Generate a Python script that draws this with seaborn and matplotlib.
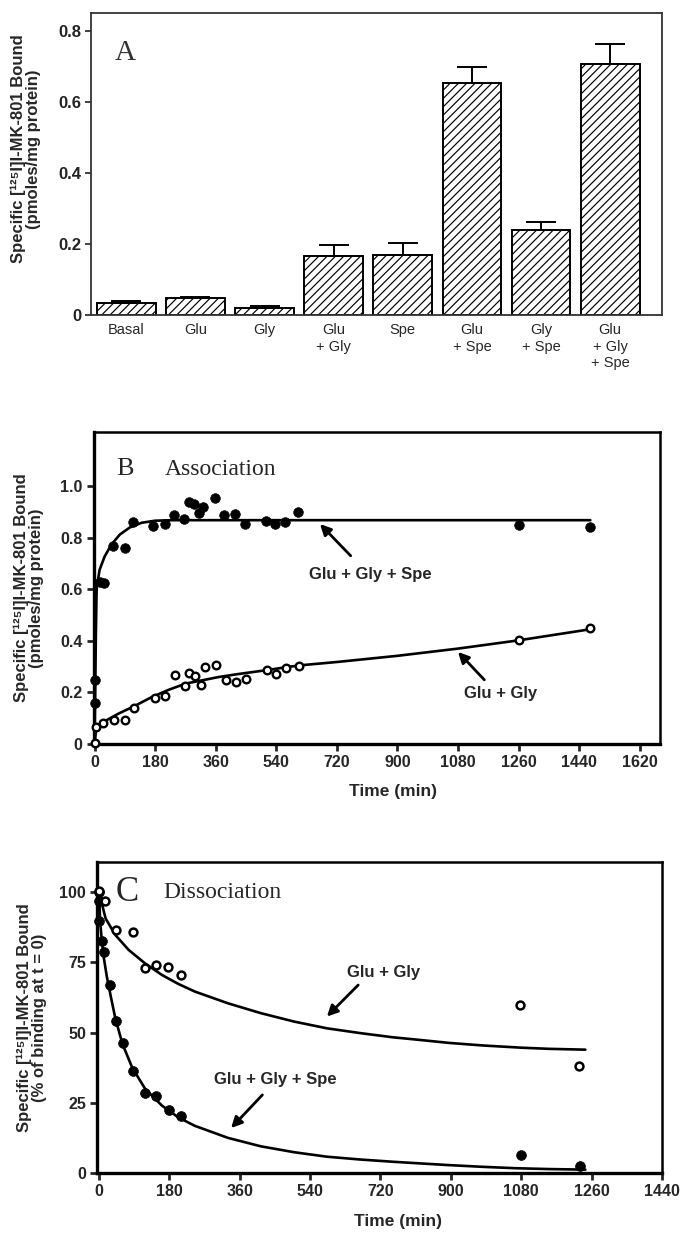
import matplotlib
matplotlib.use('Agg')
import matplotlib.pyplot as plt
import seaborn as sns
import numpy as np
import pandas as pd

# ---------------- Panel A data ----------------
conditions = ['Basal', 'Glu', 'Gly', 'Glu\n+ Gly', 'Spe', 'Glu\n+ Spe', 'Gly\n+ Spe', 'Glu\n+ Gly\n+ Spe']
bound_mean = [0.033, 0.048, 0.019, 0.165, 0.168, 0.654, 0.238, 0.706]
bound_err = [0.005, 0.003, 0.007, 0.032, 0.035, 0.043, 0.024, 0.056]

# ---------------- Panel B data (association) ----------------
assoc_spe_t = [0, 2, 15, 28, 55, 90, 115, 175, 208, 235, 265, 280, 295, 310, 322, 358, 385, 418, 448,
               510, 535, 565, 605, 1260, 1471]
assoc_spe_v = [0.158, 0.249, 0.630, 0.623, 0.769, 0.760, 0.860, 0.844, 0.855, 0.890, 0.873, 0.940, 0.932,
               0.894, 0.919, 0.955, 0.890, 0.892, 0.855, 0.864, 0.855, 0.860, 0.900, 0.849, 0.842]
assoc_gly_t = [0, 5, 25, 58, 92, 118, 180, 210, 238, 268, 282, 298, 315, 327, 360, 392, 420, 450, 513,
               538, 568, 608, 1260, 1471]
assoc_gly_v = [0.005, 0.065, 0.080, 0.094, 0.094, 0.139, 0.179, 0.188, 0.269, 0.223, 0.275, 0.262, 0.227,
               0.299, 0.305, 0.249, 0.240, 0.253, 0.288, 0.273, 0.296, 0.301, 0.404, 0.449]
# fitted curves
fit_assoc_spe_t = [0, 2, 4, 6, 7, 15, 30, 50, 75, 105, 140, 180, 230, 1473]
fit_assoc_spe_v = [0.0, 0.20, 0.42, 0.58, 0.61, 0.675, 0.727, 0.773, 0.812, 0.840, 0.858, 0.866, 0.868, 0.868]
fit_assoc_gly_t = [0, 5, 30, 70, 120, 170, 220, 270, 320, 370, 420, 470, 520, 570, 610, 720, 900, 1080, 1260, 1473]
fit_assoc_gly_v = [0.0, 0.058, 0.088, 0.117, 0.148, 0.182, 0.210, 0.234, 0.247, 0.260, 0.270, 0.279, 0.288,
                   0.298, 0.305, 0.318, 0.342, 0.370, 0.402, 0.445]

# ---------------- Panel C data (dissociation) ----------------
dissoc_spe_t = [0, 0, 0, 7, 12, 29, 44, 62, 88, 118, 147, 179, 210, 1080, 1230]
dissoc_spe_v = [100, 96.8, 89.7, 82.6, 78.5, 67.0, 54.0, 46.4, 36.2, 28.5, 27.5, 22.6, 20.4, 6.3, 2.6]
dissoc_gly_t = [0, 15, 44, 86, 117, 146, 176, 209, 1078, 1229]
dissoc_gly_v = [100.4, 96.9, 86.5, 85.9, 72.9, 74.1, 73.2, 70.5, 59.9, 38.2]
fit_dissoc_spe_t = [0, 3, 7, 12, 20, 30, 42, 60, 85, 118, 161, 203, 245, 330, 414, 499, 583, 668, 752, 811,
                    896, 981, 1066, 1150, 1244]
fit_dissoc_spe_v = [100, 90, 83, 77, 70, 63, 55, 46, 37.5, 30, 24, 19.8, 16.8, 12.5, 9.5, 7.4, 5.8, 4.8, 4.0,
                    3.5, 2.8, 2.2, 1.7, 1.4, 1.2]
fit_dissoc_gly_t = [0, 17, 42, 76, 118, 161, 203, 245, 330, 414, 499, 583, 668, 752, 811, 896, 981, 1081, 1150, 1244]
fit_dissoc_gly_v = [100, 90.6, 84.7, 79.4, 74.6, 70.5, 67.3, 64.6, 60.4, 56.9, 53.9, 51.5, 49.8, 48.3, 47.5,
                    46.3, 45.4, 44.6, 44.2, 43.9]

# ---------------- style ----------------
sns.set_style('ticks')
plt.rcParams['font.family'] = ['Liberation Sans', 'DejaVu Sans']
plt.rcParams['hatch.linewidth'] = 0.85
plt.rcParams['hatch.color'] = '#1a1a1a'

W, H = 681, 1233
fig = plt.figure(figsize=(W / 100, H / 100), dpi=100)


def box(l, t, r, b):
    return [l / W, 1 - b / H, (r - l) / W, (b - t) / H]


SERIF = ['Liberation Serif', 'DejaVu Serif']
ylab_main = 'Specific [¹²⁵I]I-MK-801 Bound'
YLAB_FS = 12

# ================= Panel A =================
axA = fig.add_axes(box(91, 13, 662, 315))
dfA = pd.DataFrame({'cond': conditions, 'val': bound_mean})
sns.barplot(data=dfA, x='cond', y='val', ax=axA, color='white', saturation=1,
            edgecolor='black', linewidth=1.4, width=0.85, errorbar=None)
for p in axA.patches:
    p.set_hatch('////')
xsA = [p.get_x() + p.get_width() / 2 for p in axA.patches]
axA.errorbar(xsA, bound_mean, yerr=[np.zeros(len(bound_err)), bound_err], fmt='none',
             ecolor='black', elinewidth=1.4, capsize=11, capthick=1.4, zorder=3)
axA.set_xlim(-0.51, 7.75)
axA.set_ylim(0, 0.85)
axA.set_yticks([0, 0.2, 0.4, 0.6, 0.8])
axA.set_yticklabels(['0', '0.2', '0.4', '0.6', '0.8'], fontsize=12, fontweight='bold')
axA.set_xticks(range(len(conditions)))
axA.set_xticklabels(conditions, fontsize=10.5, linespacing=1.2)
axA.tick_params(axis='x', length=0, pad=6)
axA.tick_params(axis='y', length=4, width=1.2, direction='out', pad=3, colors='#222222')
axA.set_xlabel('')
for s in axA.spines.values():
    s.set_visible(True)
    s.set_linewidth(1.3)
    s.set_color('#333333')
axA.set_ylabel(ylab_main + '\n(pmoles/mg protein)', fontsize=YLAB_FS, fontweight='bold', linespacing=1.0)
axA.yaxis.set_label_coords(-0.088, 0.55)
axA.text(-0.16, 0.718, 'A', fontsize=21, family=SERIF, color='#333333')


def style_line_axes(ax):
    for k, s in ax.spines.items():
        s.set_visible(True)
        s.set_color('black')
        s.set_linewidth(2.4 if k in ('left', 'bottom') else 1.8)
    ax.tick_params(length=5, width=2, direction='out', pad=3, labelsize=11.5)
    for lab in ax.get_xticklabels() + ax.get_yticklabels():
        lab.set_fontweight('bold')


def arrow(ax, tail, head):
    ax.annotate('', xy=head, xytext=tail,
                arrowprops=dict(arrowstyle='-|>', lw=2.0, color='black', mutation_scale=16,
                                shrinkA=0, shrinkB=0))


# ================= Panel B =================
axB = fig.add_axes(box(93.5, 432, 660, 744))
sns.lineplot(x=fit_assoc_spe_t, y=fit_assoc_spe_v, ax=axB, color='black', lw=1.9, estimator=None, sort=False)
sns.lineplot(x=fit_assoc_gly_t, y=fit_assoc_gly_v, ax=axB, color='black', lw=1.9, estimator=None, sort=False)
sns.scatterplot(x=assoc_spe_t, y=assoc_spe_v, ax=axB, color='black', edgecolor='black', s=48,
                linewidth=0.5, zorder=4, clip_on=False)
sns.scatterplot(x=assoc_gly_t, y=assoc_gly_v, ax=axB, facecolor='white', edgecolor='black', s=30,
                linewidth=1.7, zorder=5, clip_on=False)
axB.set_xlim(-3, 1680)
axB.set_ylim(0, 1.21)
axB.set_xticks(range(0, 1621, 180))
axB.set_xticklabels([str(v) for v in range(0, 1621, 180)])
axB.set_yticks([0, 0.2, 0.4, 0.6, 0.8, 1.0])
axB.set_yticklabels(['0', '0.2', '0.4', '0.6', '0.8', '1.0'])
style_line_axes(axB)
axB.set_xlabel('Time (min)', fontsize=12.5, fontweight='bold')
axB.xaxis.set_label_coords(0.529, -0.128)
axB.set_ylabel(ylab_main + '\n(pmoles/mg protein)', fontsize=YLAB_FS, fontweight='bold', linespacing=1.0)
axB.yaxis.set_label_coords(-0.088, 0.5)
axB.text(65, 1.044, 'B', fontsize=19, family=SERIF)
axB.text(208, 1.044, 'Association', fontsize=17, family=SERIF)
axB.text(819, 0.658, 'Glu + Gly + Spe', fontsize=12, fontweight='bold', ha='center', va='center')
arrow(axB, (761, 0.73), (670, 0.853))
axB.text(1207, 0.197, 'Glu + Gly', fontsize=12, fontweight='bold', ha='center', va='center')
arrow(axB, (1158, 0.249), (1080, 0.357))

# ================= Panel C =================
axC = fig.add_axes(box(97, 862, 662, 1173))
sns.lineplot(x=fit_dissoc_spe_t, y=fit_dissoc_spe_v, ax=axC, color='black', lw=1.9, estimator=None, sort=False)
sns.lineplot(x=fit_dissoc_gly_t, y=fit_dissoc_gly_v, ax=axC, color='black', lw=1.9, estimator=None, sort=False)
sns.scatterplot(x=dissoc_spe_t, y=dissoc_spe_v, ax=axC, color='black', edgecolor='black', s=50,
                linewidth=0.5, zorder=4, clip_on=False)
sns.scatterplot(x=dissoc_gly_t, y=dissoc_gly_v, ax=axC, facecolor='white', edgecolor='black', s=32,
                linewidth=1.8, zorder=5, clip_on=False)
axC.set_xlim(-5, 1440)
axC.set_ylim(0, 110.7)
axC.set_xticks(range(0, 1441, 180))
axC.set_xticklabels([str(v) for v in range(0, 1441, 180)])
axC.set_yticks([0, 25, 50, 75, 100])
axC.set_yticklabels(['0', '25', '50', '75', '100'])
style_line_axes(axC)
axC.set_xlabel('Time (min)', fontsize=12.5, fontweight='bold')
axC.xaxis.set_label_coords(0.533, -0.132)
axC.set_ylabel(ylab_main + '\n(% of binding at t = 0)', fontsize=YLAB_FS, fontweight='bold', linespacing=1.0)
axC.yaxis.set_label_coords(-0.088, 0.5)
axC.text(42, 96.7, 'C', fontsize=25, family=SERIF)
axC.text(165, 97.9, 'Dissociation', fontsize=17, family=SERIF)
axC.text(727, 71.2, 'Glu + Gly', fontsize=12, fontweight='bold', ha='center', va='center')
arrow(axC, (663, 66.9), (583, 55.7))
axC.text(452, 33.2, 'Glu + Gly + Spe', fontsize=12, fontweight='bold', ha='center', va='center')
arrow(axC, (418, 27.8), (338, 16.0))

fig.savefig('out.png', dpi=100)
